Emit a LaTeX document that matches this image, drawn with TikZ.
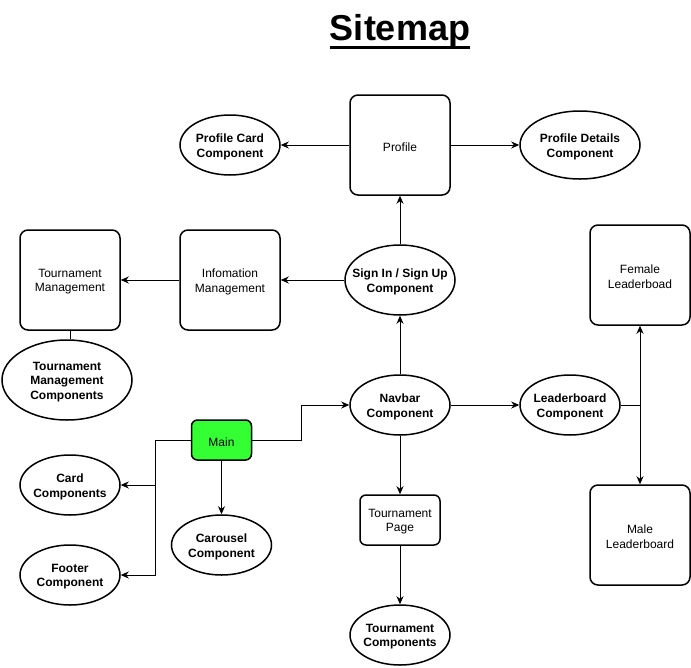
\documentclass[tikz,border=0pt]{standalone}
\usepackage{fontspec}
\setmainfont{Liberation Sans}
\usetikzlibrary{shapes.geometric,arrows.meta}
\definecolor{maingreen}{RGB}{51,255,51}
\tikzset{
  box/.style={draw, line width=1.5pt, rounded corners=8pt, minimum width=100pt, minimum height=100pt, inner sep=0pt},
  ell/.style={draw, ellipse, line width=1.5pt, inner sep=0pt, minimum width=100pt, minimum height=60pt},
  lbl/.style={align=center, inner sep=0pt, yshift=-1.8pt, font=\bfseries\fontsize{12}{14.5}\selectfont},
  nlbl/.style={align=center, inner sep=0pt, yshift=-1.8pt, font=\fontsize{12}{14.5}\selectfont},
  txt/.style={label={[lbl]center:{#1}}},
  ntxt/.style={label={[nlbl]center:{#1}}},
  arr/.style={-{Stealth[length=8pt,width=7pt,inset=2.5pt]}, line width=1pt},
  ln/.style={line width=1pt}
}
\begin{document}
\begin{tikzpicture}[x=1pt,y=-1pt]
\useasboundingbox (0,0) rectangle (691,667);
% title
\node[anchor=base, inner sep=0pt, font=\bfseries\fontsize{36}{40}\selectfont] (title) at (400,40) {Sitemap};
\draw[line width=2.6pt] ([yshift=-7.5pt]title.base west) -- ([yshift=-7.5pt]title.base east);
% boxes
\node[box, ntxt={Profile}] (profile) at (400,145) {};
\node[box, ntxt={Infomation\\Management}] (info) at (230,280) {};
\node[box, ntxt={Tournament\\Management}] (tm) at (70,280) {};
\node[box, ntxt={Female\\Leaderboad}] (female) at (640,275) {};
\node[box, ntxt={Male\\Leaderboard}] (male) at (640,535) {};
\node[box, minimum width=80pt, minimum height=50pt, rounded corners=6pt, ntxt={Tournament\\Page}] (tpage) at (400,520) {};
\node[box, minimum width=60pt, minimum height=40pt, rounded corners=6pt, fill=maingreen, ntxt={Main}] (main) at (221.5,440) {};
% ellipses
\node[ell, txt={Profile Card\\Component}] (pcard) at (230,145) {};
\node[ell, minimum width=120pt, minimum height=68pt, txt={Profile Details\\Component}] (pdet) at (580,145) {};
\node[ell, minimum width=110pt, minimum height=70pt, txt={Sign In / Sign Up\\Component}] (signin) at (400,280) {};
\node[ell, minimum width=130pt, minimum height=80pt, txt={Tournament\\Management\\Components}] (tmc) at (67,380) {};
\node[ell, txt={Navbar\\Component}] (navbar) at (400,405) {};
\node[ell, txt={Leaderboard\\Component}] (leader) at (570,405) {};
\node[ell, txt={Card\\Components}] (card) at (70,485) {};
\node[ell, txt={Footer\\Component}] (footer) at (70,575) {};
\node[ell, txt={Carousel\\Component}] (carousel) at (221.5,545) {};
\node[ell, txt={Tournament\\Components}] (tcomp) at (400,635) {};
% connectors
\draw[arr] (profile.west) -- (pcard.east);
\draw[arr] (profile.east) -- (pdet.west);
\draw[arr] (signin.north) -- (profile.south);
\draw[arr] (signin.west) -- (info.east);
\draw[arr] (info.west) -- (tm.east);
\draw[ln] (tm.south) -- (tm.south |- tmc.north);
\draw[arr] (navbar.north) -- (signin.south);
\draw[arr] (navbar.east) -- (leader.west);
\draw[arr] (leader.east) -| (female.south);
\draw[arr] (leader.east) -| (male.north);
\draw[arr] (navbar.south) -- (tpage.north);
\draw[arr] (tpage.south) -- (tcomp.north);
\draw[arr] (main.east) -- ++(49.5,0) |- (navbar.west);
\draw[arr] (main.west) -- ++(-35.5,0) |- (card.east);
\draw[arr] (main.west) -- ++(-35.5,0) |- (footer.east);
\draw[arr] (main.south) -- (carousel.north);
\end{tikzpicture}
\end{document}
